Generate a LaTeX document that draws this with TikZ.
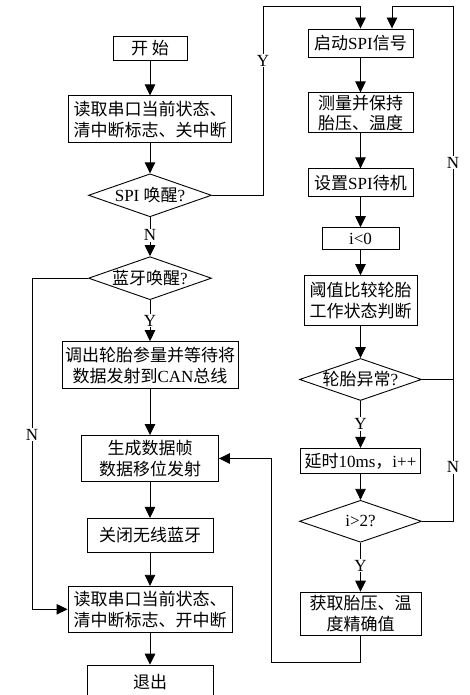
\documentclass[tikz,border=0pt]{standalone}
\usepackage{fontspec}
\setmainfont{Liberation Serif}
\newfontfamily\cjk{Noto Sans CJK SC}
\usetikzlibrary{shapes.geometric,arrows.meta,positioning}
\newcommand{\en}[1]{{\rmfamily #1}}

\begin{document}
\begin{tikzpicture}[% styles for the whole chart
      x=1pt,y=1pt,
      every node/.style={
        align=center,     % so that "\\" breaks the line
        inner sep=0pt,
        font=\cjk\fontsize{17}{21}\selectfont
      },
      box/.style={rectangle,draw=black,line width=0.9pt},
      test/.style={diamond,draw=black,line width=0.9pt,aspect=2.9},
      tag/.style={fill=white,inner sep=1pt,font=\rmfamily\fontsize{17}{21}\selectfont},
      line/.style={draw,line width=0.9pt},
      arr/.style={line,-{Triangle[length=11pt,width=10.5pt]}}
    ]
    \useasboundingbox (0,0) rectangle (469,695);
    % left column
    \node[box,minimum width=74pt,minimum height=24pt](start) at (150,647){开\ 始};
    \node[box,minimum width=163pt,minimum height=47pt](read1)[below=35pt of start]{读取串口当前状态、\\清中断标志、关中断};
    \node[test,minimum width=123pt,minimum height=43pt](spi)[below=30pt of read1]{\en{SPI }唤醒\en{?}};
    \node[test,minimum width=123pt,minimum height=43pt](bt)[below=39pt of spi]{蓝牙唤醒\en{?}};
    \node[box,minimum width=176pt,minimum height=47pt](fetch)[below=41pt of bt]{调出轮胎参量并等待将\\数据发射到\en{CAN}总线};
    \node[box,minimum width=137pt,minimum height=46pt](gen)[below=46pt of fetch]{生成数据帧\\数据移位发射};
    \node[box,minimum width=126pt,minimum height=34pt](close)[below=36pt of gen]{关闭无线蓝牙};
    \node[box,minimum width=164pt,minimum height=46pt](read2)[below=33pt of close]{读取串口当前状态、\\清中断标志、开中断};
    \node[box,minimum width=126pt,minimum height=34pt](exit)[below=32pt of read2]{退出};
    % right column
    \node[box,minimum width=105pt,minimum height=28pt](spion) at (360.5,652){启动\en{SPI}信号};
    \node[box,minimum width=105pt,minimum height=40pt,font=\cjk\fontsize{17}{20}\selectfont](measure)[below=35pt of spion]{测量并保持\\胎压、温度};
    \node[box,minimum width=105pt,minimum height=28pt](standby)[below=35pt of measure]{设置\en{SPI}待机};
    \node[box,minimum width=77pt,minimum height=22pt](izero)[below=30pt of standby]{\en{i<0}};
    \node[box,minimum width=113pt,minimum height=50pt](compare)[below=25pt of izero]{阈值比较轮胎\\工作状态判断};
    \node[test,minimum width=122pt,minimum height=42pt](abn)[below=32pt of compare]{轮胎异常\en{?}};
    \node[box,minimum width=120pt,minimum height=25pt](delay)[below=47pt of abn]{延时\en{10ms}，\en{i++}};
    \node[test,minimum width=122pt,minimum height=42pt](gt)[below=26pt of delay]{\en{i>2?}};
    \node[box,minimum width=121pt,minimum height=43pt](fine)[below=49pt of gt]{获取胎压、温\\度精确值};
    % bends
    \coordinate (ytop) at (263,689);
    \coordinate (ntop) at (453,689);
    \coordinate (njoin) at (ntop |- abn.east);
    \coordinate (fbot) at (271,33);
    \coordinate (nleft) at ([xshift=-56pt]bt.west);
    % straight flow
    \draw[arr] (start) -- (read1);
    \draw[arr] (read1) -- (spi);
    \draw[arr] (spi) -- node[tag,pos=0.46](nspi){N} (bt);
    \draw[arr] (bt) -- node[tag,pos=0.5](ybt){Y} (fetch);
    \draw[arr] (fetch) -- (gen);
    \draw[arr] (gen) -- (close);
    \draw[arr] (close) -- (read2);
    \draw[arr] (read2) -- (exit);
    \draw[arr] (spion) -- (measure);
    \draw[arr] (measure) -- (standby);
    \draw[arr] (standby) -- (izero);
    \draw[arr] (izero) -- (compare);
    \draw[arr] (compare) -- (abn);
    \draw[arr] (abn) -- node[tag,pos=0.49](yabn){Y} (delay);
    \draw[arr] (delay) -- (gt);
    \draw[arr] (gt) -- node[tag,pos=0.47](ygt){Y} (fine);
    % loops
    \draw[arr] (spi.east) -| node[tag,pos=0.856](yspi){Y} (ytop) -| (spion.north);
    \draw[arr] (abn.east) -| node[tag,pos=0.79](nabn){N} (ntop) -| ([xshift=31.5pt]spion.north);
    \draw[line] (gt.east) -| node[tag,pos=0.69](ngt){N} (njoin);
    \draw[arr] (fine.south) |- (fbot) |- (gen.east);
    \draw[arr] (bt.west) -- (nleft) |- node[tag,pos=0.236](nbt){N} (read2.west);
  \end{tikzpicture}
\end{document}
